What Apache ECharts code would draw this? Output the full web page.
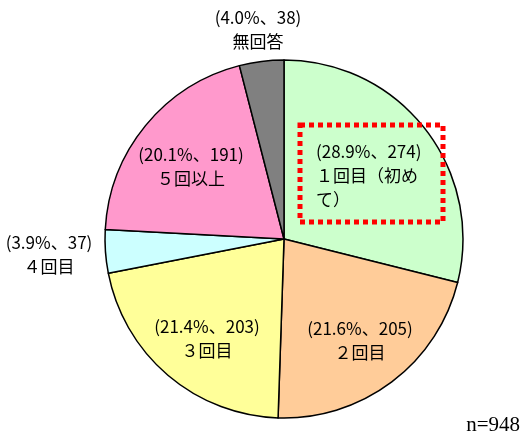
<!DOCTYPE html>
<html>
<head>
<meta charset="utf-8">
<script src="https://cdn.jsdelivr.net/npm/echarts@6/dist/echarts.min.js"></script>
<style>
  html, body { margin: 0; padding: 0; background: #fff; }
  #chart { width: 523px; height: 434px; }
</style>
</head>
<body>
<div id="chart"></div>
<script>
// 回数ごとの回答（n=948）
const categories = ['１回目（初めて）', '２回目', '３回目', '４回目', '５回以上', '無回答'];
const counts = [274, 205, 203, 37, 191, 38];
const percents = [28.9, 21.6, 21.4, 3.9, 20.1, 4.0];
const colors = ['#CCFFCC', '#FFCC99', '#FFFF99', '#CCFFFF', '#FF99CC', '#808080'];
const totalLabel = 'n=948';

// label anchor per slice: x, y, align
const labelPos = [
  [316, 176, 'left'],
  [360, 341, 'center'],
  [207, 339, 'center'],
  [49, 255, 'center'],
  [191, 167, 'center'],
  [258, 30, 'center']
];

let chart = echarts.init(document.getElementById('chart'));

let pieData = categories.map(function (name, i) {
  let item = {
    name: name,
    value: counts[i],
    itemStyle: { color: colors[i] }
  };
  if (i === 0) {
    item.label = { width: 110, overflow: 'break', align: 'left' };
  }
  return item;
});

chart.setOption({
  animation: false,
  series: [
    {
      type: 'pie',
      center: [284, 239],
      radius: 179,
      startAngle: 90,
      clockwise: true,
      avoidLabelOverlap: false,
      itemStyle: {
        borderColor: '#000',
        borderWidth: 1.5
      },
      label: {
        show: true,
        position: 'outside',
        color: '#000',
        fontFamily: 'Noto Sans CJK JP',
        fontSize: 17,
        lineHeight: 24,
        align: 'center',
        formatter: function (p) {
          return '(' + percents[p.dataIndex].toFixed(1) + '%、' + p.value + ')\n' + p.name;
        }
      },
      labelLine: { show: false },
      labelLayout: function (params) {
        let pos = labelPos[params.dataIndex];
        return {
          x: pos[0],
          y: pos[1],
          align: pos[2],
          verticalAlign: 'middle'
        };
      },
      emphasis: { disabled: true },
      data: pieData
    }
  ],
  graphic: [
    {
      type: 'rect',
      shape: { x: 300, y: 125, width: 143, height: 97 },
      style: {
        fill: 'none',
        stroke: '#FF0000',
        lineWidth: 5,
        lineDash: [5, 4]
      },
      z: 10
    },
    {
      type: 'text',
      right: 3,
      bottom: -2,
      style: {
        text: totalLabel,
        fill: '#000',
        font: '21px "Liberation Serif"'
      }
    }
  ]
});
</script>
</body>
</html>
